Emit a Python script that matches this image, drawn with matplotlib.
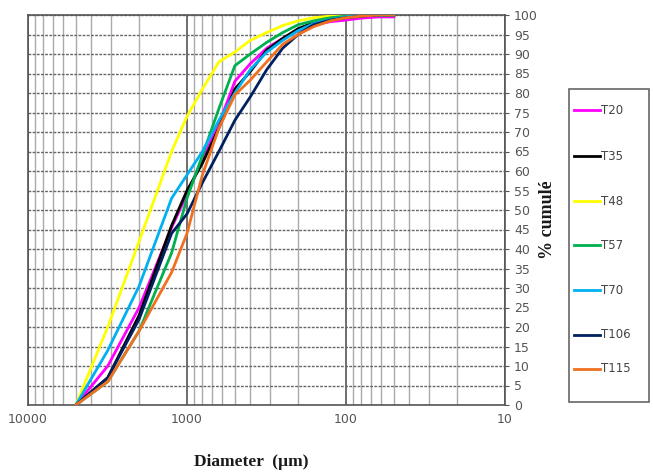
import matplotlib
matplotlib.use("Agg")
import matplotlib.pyplot as plt
from matplotlib.lines import Line2D
from matplotlib.patches import Rectangle
from matplotlib.ticker import FixedLocator, LogLocator, NullFormatter

# sieve sizes (um)
diam = [5000, 3150, 2000, 1250, 1000, 800, 630, 500, 400, 315, 250, 200, 160, 125, 100, 80, 63, 50]

# cumulative % for each sample
t20 = [0, 10, 25, 45.5, 54, 63, 72, 83, 87.5, 91.5, 94, 96, 97.5, 98.3, 98.7, 99.2, 99.5, 99.5]
t35 = [0, 7, 23, 46, 55, 62, 71, 81, 85.5, 91, 94, 96.5, 98, 99, 99.5, 99.8, 100, 100]
t48 = [0, 20, 42, 65, 74, 81, 88, 90.5, 93.5, 95.5, 97.3, 98.5, 99.3, 99.7, 100, 100, 100, 100]
t57 = [0, 6, 19, 39, 53, 64, 76, 87, 90, 93, 95.5, 97.5, 98.5, 99.3, 99.7, 100, 100, 100]
t70 = [0, 14, 30.5, 53, 59, 65, 73, 80, 86, 90.5, 93.5, 96, 97.8, 98.8, 99.5, 99.8, 100, 100]
t106 = [0, 7, 22, 44, 49, 57, 65, 73, 79, 86, 91.5, 95, 97.5, 98.7, 99.3, 99.7, 100, 100]
t115 = [0, 6, 19, 34, 44, 59, 71, 79.5, 83.3, 88, 92.5, 95, 97, 98.5, 99.3, 99.7, 100, 100]

series = [("T20", t20, "#FF00FF"),
          ("T35", t35, "#000000"),
          ("T48", t48, "#FFFF00"),
          ("T57", t57, "#00B050"),
          ("T70", t70, "#00B0F0"),
          ("T106", t106, "#002060"),
          ("T115", t115, "#F07020")]

fig = plt.figure(figsize=(6.53, 4.75), dpi=100)
ax = fig.add_axes([28 / 653, 1 - 405 / 475, 477 / 653, 390 / 475])

for name, vals, col in series:
    ax.plot(diam, vals, color=col, lw=2, zorder=3)

ax.set_xscale("log")
ax.set_xlim(10000, 10)
ax.set_ylim(0, 100)
ax.xaxis.set_major_locator(FixedLocator([10000, 1000, 100, 10]))
ax.xaxis.set_minor_locator(LogLocator(base=10, subs=range(2, 10)))
ax.xaxis.set_minor_formatter(NullFormatter())
ax.set_xticklabels(["10000", "1000", "100", "10"])
ax.set_yticks(range(0, 101, 5))

ax.yaxis.tick_right()
ax.tick_params(axis="both", which="both", labelsize=9, labelcolor="#555555",
               color="#555555", length=3, direction="out")
ax.tick_params(axis="x", which="minor", length=0)
ax.tick_params(axis="x", which="major", length=0, pad=6)

ax.grid(True, which="major", axis="x", color="#555555", lw=1.2)
ax.grid(True, which="minor", axis="x", color="#aaaaaa", lw=1.0)
ax.grid(True, which="major", axis="y", color="#666666", lw=1.0, linestyle=(0, (2, 1)))
for s in ax.spines.values():
    s.set_color("#555555")
    s.set_linewidth(1.2)

fig.text(0.385, 1 - 462 / 475, "Diameter  (µm)", fontfamily="Liberation Serif",
         fontweight="bold", fontsize=12.5, ha="center", va="center", color="#1a1a1a")
fig.text(548 / 653, 1 - 220 / 475, "% cumulé", fontfamily="Liberation Serif",
         fontweight="bold", fontsize=13, rotation=90, ha="center", va="center",
         color="#1a1a1a")

# legend box
fig.patches.append(Rectangle((569 / 653, 1 - 402 / 475), 80 / 653, 313 / 475,
                             transform=fig.transFigure, fill=False,
                             edgecolor="#666666", lw=1.2))
leg_y = [110, 156, 201, 245, 290, 335, 369]
for (name, vals, col), yy in zip(series, leg_y):
    yf = 1 - yy / 475
    fig.lines.append(Line2D([574 / 653, 600 / 653], [yf, yf], transform=fig.transFigure,
                            color=col, lw=2))
    fig.text(601 / 653, yf, name, fontsize=8.5, color="#444444", va="center", ha="left")

fig.savefig("out.png", dpi=100)
